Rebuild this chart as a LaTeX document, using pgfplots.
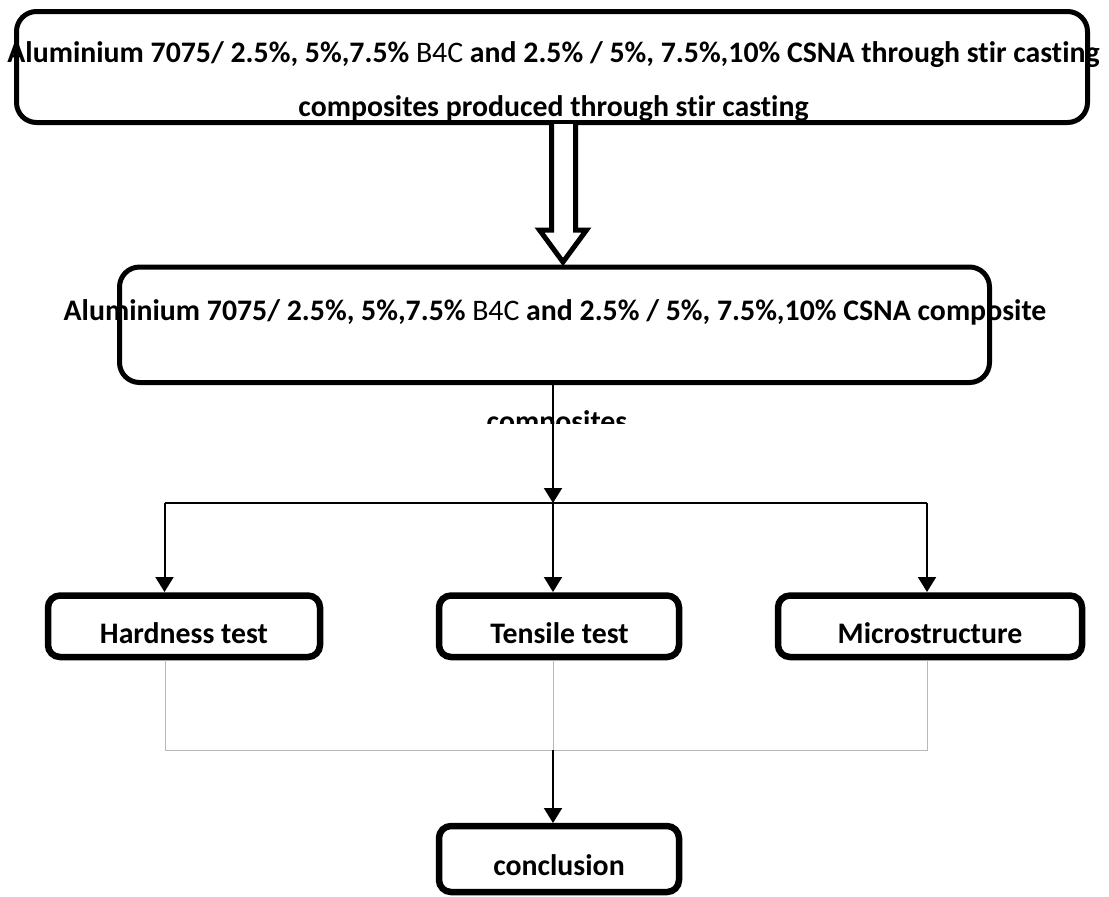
\documentclass[border=0pt]{standalone}
\usepackage{pgfplots}
\pgfplotsset{compat=1.18}
\usepackage{fontspec}
\setmainfont{Carlito}[Ligatures=NoCommon]
\usetikzlibrary{arrows.meta}

\newcommand{\bigtxt}{\fontsize{14.9}{18}\selectfont\bfseries}
\newcommand{\smalltxt}{\fontsize{14.9}{17}\selectfont\bfseries}

\begin{document}
\begin{tikzpicture}
\begin{axis}[width=554.5pt,height=448pt,scale only axis,
  xmin=0,xmax=1109,ymin=0,ymax=896,y dir=reverse,
  hide axis,clip=false]
\coordinate (tl) at (axis cs:0,0);
\coordinate (br) at (axis cs:1109,896);

% top box
\addplot[black,line width=2.5pt,rounded corners=10pt] coordinates
  {(550,11.5)(1087.5,11.5)(1087.5,122.5)(16.5,122.5)(16.5,11.5)(550,11.5)};
\node[anchor=base,font=\bigtxt] at (axis cs:553.5,62)
  {Aluminium 7075/ 2.5\%, 5\%,7.5\% {\mdseries B4C} and 2.5\% / 5\%, 7.5\%,10\% CSNA through stir casting};
\node[anchor=base,font=\bigtxt] at (axis cs:553.5,116)
  {composites produced through stir casting};

% hollow arrow
\addplot[black,fill=white,line width=2.5pt,line join=miter] coordinates
  {(551.5,124)(551.5,230)(539.5,230)(563,262)(586.5,230)(575.5,230)(575.5,124)};

% second box
\addplot[black,line width=2.5pt,rounded corners=10pt] coordinates
  {(550,267)(989.5,267)(989.5,382.5)(119.5,382.5)(119.5,267)(550,267)};
\node[anchor=base,font=\bigtxt] at (axis cs:555,320)
  {Aluminium 7075/ 2.5\%, 5\%,7.5\% {\mdseries B4C} and 2.5\% / 5\%, 7.5\%,10\% CSNA composite};
\begin{scope}
  \clip (axis cs:400,395) rectangle (axis cs:700,423);
  \node[anchor=base,font=\bigtxt] at (axis cs:557,431) {composites};
\end{scope}

% arrows to the three tests
\addplot[black,line width=1pt,-{Triangle[length=7.5pt,width=9pt]}] coordinates {(553,384)(553,503)};
\addplot[black,line width=0.6pt] coordinates {(164.5,503)(927,503)};
\addplot[black,line width=1pt,-{Triangle[length=7.5pt,width=9pt]}] coordinates {(164.5,503)(164.5,592)};
\addplot[black,line width=1pt,-{Triangle[length=7.5pt,width=9pt]}] coordinates {(553,503)(553,592)};
\addplot[black,line width=1pt,-{Triangle[length=7.5pt,width=9pt]}] coordinates {(927,503)(927,592)};

% test boxes
\addplot[black,line width=3.25pt,rounded corners=6pt] coordinates
  {(184,595.5)(320,595.5)(320,657)(48,657)(48,595.5)(184,595.5)};
\addplot[black,line width=3.25pt,rounded corners=6pt] coordinates
  {(559,595.5)(679,595.5)(679,657)(439,657)(439,595.5)(559,595.5)};
\addplot[black,line width=3.25pt,rounded corners=6pt] coordinates
  {(930,595.5)(1082,595.5)(1082,657)(778,657)(778,595.5)(930,595.5)};
\node[anchor=base,font=\smalltxt] at (axis cs:184,643) {Hardness test};
\node[anchor=base,font=\smalltxt] at (axis cs:559.5,643) {Tensile test};
\node[anchor=base,font=\smalltxt] at (axis cs:930,643) {Microstructure};

% grey connectors
\addplot[gray!55,line width=0.5pt] coordinates {(165.5,660)(165.5,750)(927,750)(927,660)};
\addplot[gray!55,line width=0.5pt] coordinates {(553,660)(553,750)};
\addplot[black,line width=1pt,-{Triangle[length=7.5pt,width=9pt]}] coordinates {(553,750)(553,823)};

% conclusion box
\addplot[black,line width=3.25pt,rounded corners=6pt] coordinates
  {(559,826)(679,826)(679,892)(439,892)(439,826)(559,826)};
\node[anchor=base,font=\smalltxt] at (axis cs:559,875) {conclusion};
\end{axis}
\pgfresetboundingbox
\path[use as bounding box] (tl) rectangle (br);
\end{tikzpicture}
\end{document}
